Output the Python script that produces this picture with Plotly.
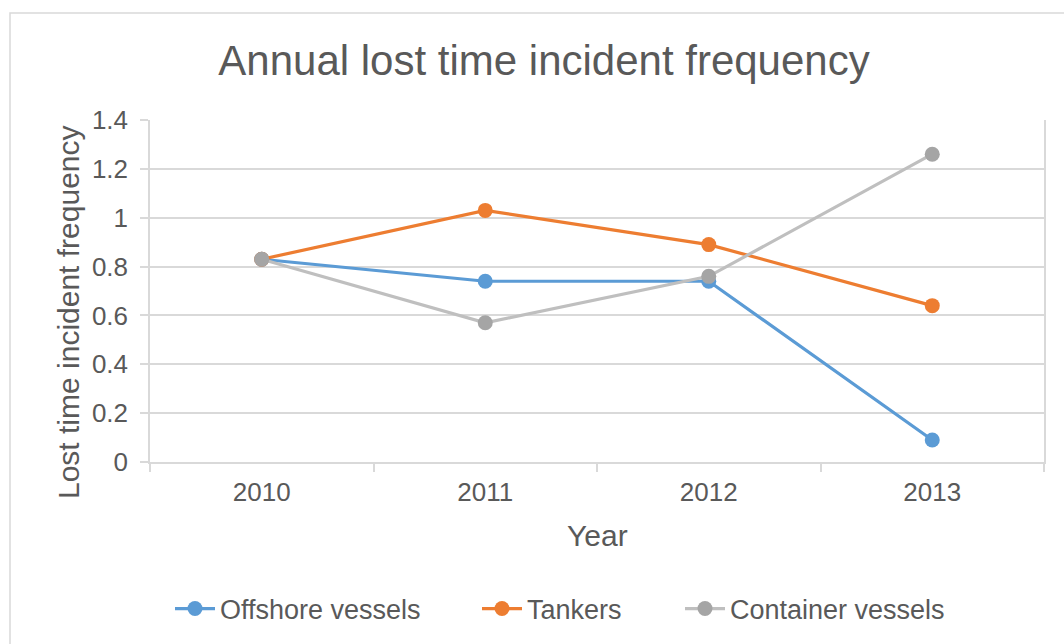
import plotly.graph_objects as go

years = ["2010", "2011", "2012", "2013"]
offshore = [0.83, 0.74, 0.74, 0.09]
tankers = [0.83, 1.03, 0.89, 0.64]
container = [0.83, 0.57, 0.76, 1.26]
y_ticks = [0, 0.2, 0.4, 0.6, 0.8, 1, 1.2, 1.4]
y_tick_labels = ["0", "0.2", "0.4", "0.6", "0.8", "1", "1.2", "1.4"]

FONT = "Liberation Sans, Arial, sans-serif"
TXT = "#595959"
GRID = "#D9D9D9"

W, H = 1064, 644
L, R, T, B = 150, 20, 120, 182
pw = W - L - R
ph = H - T - B

def px_x(p):
    return (p - L) / pw

def px_y(p):
    return (H - B - p) / ph

fig = go.Figure()
series = [
    ("Offshore vessels", offshore, "#5B9BD5", "#5B9BD5", "legend", 170),
    ("Tankers", tankers, "#ED7D31", "#ED7D31", "legend2", 477),
    ("Container vessels", container, "#BFBFBF", "#A5A5A5", "legend3", 680),
]
legend_layout = {}
for name, vals, lc, mc, lg, lx in series:
    fig.add_trace(go.Scatter(
        x=years, y=vals, name=name, mode="lines+markers",
        line=dict(color=lc, width=3.2),
        marker=dict(color=mc, size=15, line=dict(width=0)),
        legend=lg,
    ))
    legend_layout[lg] = dict(orientation="h", x=px_x(lx), xanchor="left", y=px_y(609),
                             yanchor="middle", font=dict(size=27, color=TXT, family=FONT),
                             itemwidth=40, bgcolor="rgba(0,0,0,0)")

fig.update_layout(
    width=W, height=H,
    margin=dict(l=L, r=R, t=T, b=B, autoexpand=False),
    paper_bgcolor="white", plot_bgcolor="white",
    font=dict(family=FONT, color=TXT, size=26),
    title=dict(text="Annual lost time incident frequency", x=px_x(544), xref="paper",
               xanchor="center", y=1 - 60 / H, yref="container", yanchor="middle",
               font=dict(size=42, color=TXT, family=FONT)),
    showlegend=True,
    xaxis=dict(type="category", range=[-0.5, 3.5], showgrid=False, showline=True,
               linecolor=GRID, linewidth=1.5, ticks="outside", tickson="boundaries",
               ticklen=8, tickcolor=GRID, tickwidth=1.5, ticklabelstandoff=6,
               tickfont=dict(size=26, color=TXT), zeroline=False, fixedrange=True),
    yaxis=dict(range=[0, 1.4], tickvals=y_ticks, ticktext=y_tick_labels, showgrid=True,
               gridcolor=GRID, gridwidth=1.5, showline=True, linecolor=GRID, linewidth=1.5,
               mirror=True, ticks="outside", ticklen=8, tickcolor=GRID, tickwidth=1.5,
               ticklabelstandoff=7,
               tickfont=dict(size=26, color=TXT), zeroline=False, fixedrange=True),
    annotations=[
        dict(text="Year", x=px_x(597), y=px_y(535), xref="paper", yref="paper",
             xanchor="center", yanchor="middle", showarrow=False,
             font=dict(size=30, color=TXT, family=FONT)),
        dict(text="Lost time incident frequency", x=px_x(68), y=px_y(312), xref="paper",
             yref="paper", xanchor="center", yanchor="middle", showarrow=False, textangle=-90,
             font=dict(size=30, color=TXT, family=FONT)),
    ],
    shapes=[
        dict(type="rect", xref="paper", yref="paper", x0=px_x(10), y0=px_y(13),
             x1=px_x(1100), y1=px_y(700), line=dict(color=GRID, width=1.5), layer="below"),
    ],
    **legend_layout,
)

fig.write_html("out.html")
